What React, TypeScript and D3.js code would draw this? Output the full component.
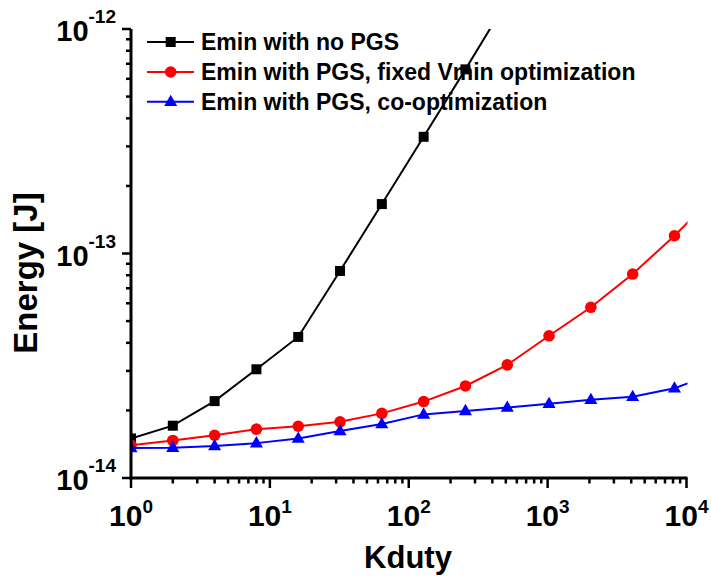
import React from "react";
import * as d3 from "d3";

const kduty = [1, 2, 4, 8, 16, 32, 64, 128, 256, 512, 1024, 2048, 4096, 8192, 16384];
const noPGS = [1.5e-14, 1.71e-14, 2.2e-14, 3.05e-14, 4.25e-14, 8.36e-14, 1.66e-13, 3.31e-13, 6.61e-13, 1.34e-12];
const fixedVmin = [1.4e-14, 1.47e-14, 1.55e-14, 1.65e-14, 1.7e-14, 1.78e-14, 1.94e-14, 2.19e-14, 2.57e-14, 3.19e-14, 4.3e-14, 5.76e-14, 8.1e-14, 1.2e-13, 1.85e-13];
const coOpt = [1.36e-14, 1.365e-14, 1.39e-14, 1.43e-14, 1.5e-14, 1.62e-14, 1.74e-14, 1.92e-14, 1.99e-14, 2.06e-14, 2.14e-14, 2.23e-14, 2.3e-14, 2.51e-14, 2.94e-14];
const legendLabels = [
  "Emin with no PGS",
  "Emin with PGS, fixed Vmin optimization",
  "Emin with PGS, co-optimization",
];
const xTickExps = [0, 1, 2, 3, 4];
const yTickExps = [-14, -13, -12];

const FONT = "'Liberation Sans', Arial, Helvetica, sans-serif";

const W = 711, H = 579;
const L = 131, R = 686.5, T = 29, B = 478;

export default function App() {
  const x = d3.scaleLog().domain([1, 1e4]).range([L, R]);
  const y = d3.scaleLog().domain([1e-14, 1e-12]).range([B, T]);

  const series = [
    { vals: noPGS, color: "#000000", shape: "square" },
    { vals: fixedVmin, color: "#ff0000", shape: "circle" },
    { vals: coOpt, color: "#0000ff", shape: "triangle" },
  ];

  const line = d3
    .line<number>()
    .x((_, i) => x(kduty[i]))
    .y((d) => y(d));

  const marker = (shape: string, cx: number, cy: number, color: string, key: any) => {
    if (shape === "square")
      return <rect key={key} x={cx - 5} y={cy - 5} width={10} height={10} fill={color} />;
    if (shape === "circle") return <circle key={key} cx={cx} cy={cy} r={5.8} fill={color} />;
    const tri = d3.symbol(d3.symbolTriangle, 74)()!;
    return <path key={key} d={tri} transform={`translate(${cx},${cy + 0.5})`} fill={color} />;
  };

  // minor ticks
  const xMinor: number[] = [];
  for (let e = 0; e < 4; e++) for (let m = 2; m <= 9; m++) xMinor.push(m * Math.pow(10, e));
  const yMinor: number[] = [];
  for (let e = -14; e < -12; e++) for (let m = 2; m <= 9; m++) yMinor.push(m * Math.pow(10, e));

  const legendY = [42, 72, 101.7];

  return (
    <svg width={W} height={H} style={{ position: "absolute", left: 0, top: 0, background: "#fff" }}>
      <defs>
        <clipPath id="plotclip">
          <rect x={L} y={T} width={R - L + 1} height={B - T} />
        </clipPath>
      </defs>
      <rect x={0} y={0} width={W} height={H} fill="#fff" />

      {/* legend */}
      {legendLabels.map((lab, i) => (
        <g key={lab}>
          <line x1={147} x2={194} y1={legendY[i]} y2={legendY[i]} stroke={series[i].color} strokeWidth={2} />
          {marker(series[i].shape, 170.7, legendY[i], series[i].color, "lm" + i)}
          <text x={201} y={legendY[i] + 8} fontFamily={FONT} fontWeight="bold" fontSize={23} fill="#000">
            {lab}
          </text>
        </g>
      ))}

      {/* series */}
      <g clipPath="url(#plotclip)">
        {series.map((s, si) => (
          <g key={si}>
            <path d={line(s.vals) || ""} fill="none" stroke={s.color} strokeWidth={2} />
            {s.vals.map((v, i) => marker(s.shape, x(kduty[i]), y(v), s.color, i))}
          </g>
        ))}
      </g>

      {/* axes */}
      <line x1={L} x2={L} y1={T} y2={B + 1.5} stroke="#000" strokeWidth={3} />
      <line x1={L - 1.5} x2={R + 1} y1={B} y2={B} stroke="#000" strokeWidth={3} />

      {xTickExps.map((e) => (
        <g key={"xt" + e}>
          <line x1={x(Math.pow(10, e))} x2={x(Math.pow(10, e))} y1={B} y2={B + 10} stroke="#000" strokeWidth={2.5} />
          <text
            x={x(Math.pow(10, e))}
            y={526}
            textAnchor="middle"
            fontFamily={FONT}
            fontWeight="bold"
            fontSize={30}
          >
            10
            <tspan fontSize={19} dy={-13}>
              {e}
            </tspan>
          </text>
        </g>
      ))}
      {xMinor.map((v, i) => (
        <line key={"xm" + i} x1={x(v)} x2={x(v)} y1={B} y2={B + 5.5} stroke="#000" strokeWidth={2.5} />
      ))}

      {yTickExps.map((e) => (
        <g key={"yt" + e}>
          <line x1={L - 9} x2={L} y1={y(Math.pow(10, e))} y2={y(Math.pow(10, e))} stroke="#000" strokeWidth={2.5} />
          <text
            x={116}
            y={y(Math.pow(10, e)) + 12}
            textAnchor="end"
            fontFamily={FONT}
            fontWeight="bold"
            fontSize={29}
          >
            10
            <tspan fontSize={19} dy={-18}>
              {e}
            </tspan>
          </text>
        </g>
      ))}
      {yMinor.map((v, i) => (
        <line key={"ym" + i} x1={L - 5} x2={L} y1={y(v)} y2={y(v)} stroke="#000" strokeWidth={2.5} />
      ))}

      {/* axis titles */}
      <text x={408} y={568} textAnchor="middle" fontFamily={FONT} fontWeight="bold" fontSize={31}>
        Kduty
      </text>
      <text
        transform={`translate(37,273) rotate(-90)`}
        textAnchor="middle"
        fontFamily={FONT}
        fontWeight="bold"
        fontSize={33}
      >
        Energy [J]
      </text>
    </svg>
  );
}
